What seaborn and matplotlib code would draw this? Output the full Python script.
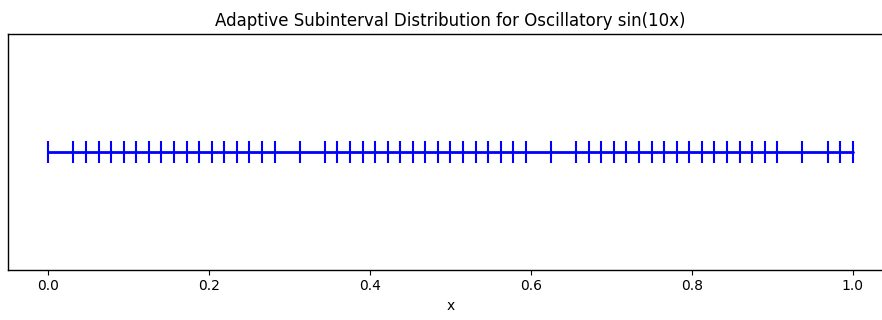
import matplotlib
matplotlib.use("Agg")
import matplotlib.pyplot as plt
import seaborn as sns
import pandas as pd

# Subinterval endpoints (x positions of the markers)
x_points = [
    0.0, 0.03125, 0.046875, 0.0625, 0.078125, 0.09375, 0.109375, 0.125,
    0.140625, 0.15625, 0.171875, 0.1875, 0.203125, 0.21875, 0.234375, 0.25,
    0.265625, 0.28125, 0.3125, 0.34375, 0.359375, 0.375, 0.390625, 0.40625,
    0.421875, 0.4375, 0.453125, 0.46875, 0.484375, 0.5, 0.515625, 0.53125,
    0.546875, 0.5625, 0.578125, 0.59375, 0.625, 0.65625, 0.671875, 0.6875,
    0.703125, 0.71875, 0.734375, 0.75, 0.765625, 0.78125, 0.796875, 0.8125,
    0.828125, 0.84375, 0.859375, 0.875, 0.890625, 0.90625, 0.9375, 0.96875,
    0.984375, 1.0,
]
y_points = [0.0] * len(x_points)

title = "Adaptive Subinterval Distribution for Oscillatory sin(10x)"
x_label = "x"

sns.set_style("ticks")
plt.rcParams.update({
    "font.family": ["DejaVu Sans"],
    "axes.edgecolor": "black",
    "xtick.color": "black",
    "ytick.color": "black",
    "text.color": "black",
    "axes.labelcolor": "black",
    "axes.linewidth": 1.0,
    "xtick.major.size": 3.5,
    "xtick.major.width": 0.8,
})

df = pd.DataFrame({"x": x_points, "y": y_points})

fig = plt.figure(figsize=(8.82, 3.2), dpi=100)
ax = fig.add_axes([8 / 882, 1 - 269.5 / 320, 885 / 882, 235.5 / 320])

sns.lineplot(data=df, x="x", y="y", ax=ax, color="blue", marker="|",
             markersize=16, markeredgewidth=1.5, markeredgecolor="blue",
             markerfacecolor="blue", linewidth=2, sort=False, estimator=None)

ax.set_yticks([])
ax.set_ylabel("")
ax.set_xlabel(x_label, fontsize=10)
ax.set_title(title, fontsize=12)
ax.set_xticks([0.0, 0.2, 0.4, 0.6, 0.8, 1.0])
for s in ax.spines.values():
    s.set_visible(True)
    s.set_color("black")

fig.savefig("out.png", dpi=100)
